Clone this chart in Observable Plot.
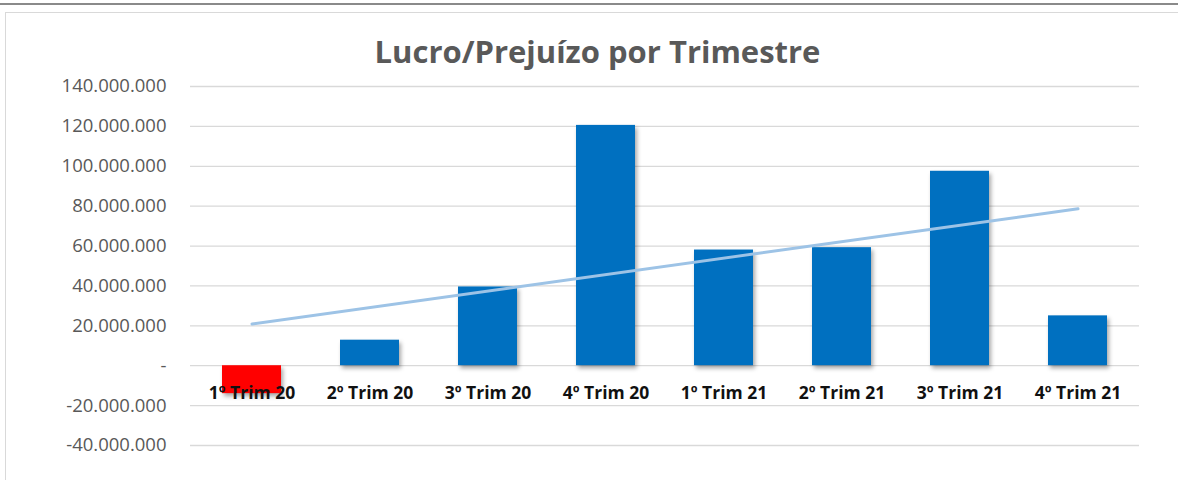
<!DOCTYPE html>
<html>
<head>
<meta charset="utf-8">
<script src="https://cdn.jsdelivr.net/npm/d3@7"></script>
<script src="https://cdn.jsdelivr.net/npm/@observablehq/plot@0.6"></script>
<style>
  html, body { margin: 0; padding: 0; background: #fff; }
  #wrap { position: relative; width: 1178px; height: 480px; overflow: hidden; background: #fff; }
  #topline { position: absolute; left: 0; top: 3px; width: 1178px; height: 2px; background: #8a8a8a; }
  #frame { position: absolute; left: 5px; top: 12px; width: 1180px; height: 480px; border: 1.5px solid #d9d9d9; box-sizing: border-box; }
  #title { position: absolute; left: 0; width: 1195px; top: 30px; text-align: center; font-family: "Open Sans", sans-serif; font-weight: bold; font-size: 31px; color: #595959; }
  #chart { position: absolute; left: 0; top: 0; }
  .shadowed rect { filter: drop-shadow(2px 3px 2px rgba(0,0,0,0.35)); }
</style>
</head>
<body>
<div id="wrap">
  <div id="topline"></div>
  <div id="frame"></div>
  <div id="title">Lucro/Prejuízo por Trimestre</div>
  <div id="chart"></div>
</div>
<script>
const categories = ["1º Trim 20", "2º Trim 20", "3º Trim 20", "4º Trim 20", "1º Trim 21", "2º Trim 21", "3º Trim 21", "4º Trim 21"];
const values = [-14000000, 12800000, 39500000, 120500000, 58000000, 59200000, 97500000, 25000000];
const yTicks = [-40000000, -20000000, 0, 20000000, 40000000, 60000000, 80000000, 100000000, 120000000, 140000000];

const data = categories.map((c, i) => ({cat: c, value: values[i], idx: i + 1}));

// linear trendline (least squares, like Excel's trendline)
const mx = d3.mean(data, d => d.idx), my = d3.mean(data, d => d.value);
const slope = d3.sum(data, d => (d.idx - mx) * (d.value - my)) / d3.sum(data, d => (d.idx - mx) ** 2);
const trend = [data[0], data[data.length - 1]].map(d => ({cat: d.cat, value: my + slope * (d.idx - mx)}));

const loc = d3.formatLocale({decimal: ",", thousands: ".", grouping: [3], currency: ["", ""], minus: "-"});
const fmt = loc.format(",");

const svgFont = '"Open Sans", sans-serif';

const chart = Plot.plot({
  width: 1178,
  height: 480,
  marginLeft: 190,
  marginRight: 39,
  marginTop: 86,
  marginBottom: 35,
  style: {fontFamily: svgFont, background: "transparent", overflow: "visible"},
  x: {domain: categories, paddingInner: 0.5, paddingOuter: 0.25, axis: null},
  y: {domain: [-40000000, 140000000], axis: null},
  marks: [
    Plot.ruleY(yTicks, {stroke: "#d9d9d9", strokeWidth: 1.3}),
    Plot.axisY({ticks: yTicks, tickSize: 0, tickPadding: 24, tickFormat: d => d === 0 ? "-" : fmt(d), fontSize: 18.5, fill: "#595959", label: null}),
    Plot.barY(data, {x: "cat", y: "value", fill: d => d.value < 0 ? "#ff0000" : "#0070c0", className: "shadowed"}),
    Plot.text(data, {x: "cat", y: 0, text: "cat", dy: 28, fontSize: 17.5, fontWeight: "bold", fill: "#111"}),
    Plot.line(trend, {x: "cat", y: "value", stroke: "#9dc3e6", strokeWidth: 3})
  ]
});
document.getElementById("chart").appendChild(chart);
</script>
</body>
</html>
